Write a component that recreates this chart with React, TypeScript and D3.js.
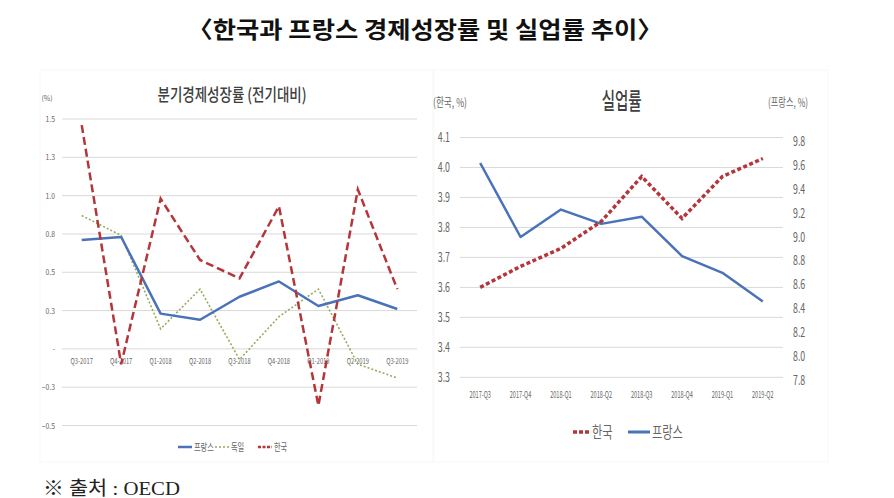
import React, { useEffect, useRef } from "react";
import * as d3 from "d3";

// 분기경제성장률 (전기대비)
const gdpQuarters = ["Q3-2017", "Q4-2017", "Q1-2018", "Q2-2018", "Q3-2018", "Q4-2018", "Q1-2019", "Q2-2019", "Q3-2019"];
const gdpFrance = [0.71, 0.73, 0.23, 0.19, 0.34, 0.44, 0.28, 0.35, 0.26];
const gdpGermany = [0.87, 0.74, 0.13, 0.39, -0.07, 0.21, 0.39, -0.1, -0.19];
const gdpKorea = [1.46, -0.1, 0.98, 0.58, 0.46, 0.93, -0.37, 1.04, 0.39];
const gdpTicks = [-0.5, -0.25, 0, 0.25, 0.5, 0.75, 1, 1.25, 1.5];

// 실업률
const unempQuarters = ["2017-Q3", "2017-Q4", "2018-Q1", "2018-Q2", "2018-Q3", "2018-Q4", "2019-Q1", "2019-Q2"];
const unempKorea = [3.6, 3.67, 3.73, 3.82, 3.97, 3.83, 3.97, 4.03];
const unempFrance = [9.62, 9.0, 9.23, 9.11, 9.17, 8.84, 8.7, 8.46];
const koreaTicks = [3.3, 3.4, 3.5, 3.6, 3.7, 3.8, 3.9, 4.0, 4.1];
const franceTicks = [7.8, 8.0, 8.2, 8.4, 8.6, 8.8, 9.0, 9.2, 9.4, 9.6, 9.8];

const BLUE = "#4a72b8";
const RED = "#b3363a";
const GREEN = "#93ad5c";
const GRID = "#d9d9d9";
const LABEL = "#666";
const SANS = "'Noto Sans CJK KR', 'Liberation Sans', sans-serif";

// squeeze text horizontally like the original image
const condense = (sel: d3.Selection<SVGTextElement, any, any, any>, k: number) => {
    sel.each(function () {
        const w = this.getComputedTextLength();
        d3.select(this).attr("textLength", w * k).attr("lengthAdjust", "spacingAndGlyphs");
    });
};

const App: React.FC = () => {
    const svgRef = useRef<SVGSVGElement | null>(null);

    useEffect(() => {
        if (!svgRef.current) return;
        const svg = d3.select(svgRef.current);
        svg.selectAll("*").remove();

        // main title
        svg.append("text")
            .attr("x", 425)
            .attr("y", 38)
            .attr("text-anchor", "middle")
            .attr("font-family", SANS)
            .attr("font-weight", "bold")
            .attr("font-size", 23)
            .attr("fill", "#111")
            .attr("textLength", 475)
            .attr("lengthAdjust", "spacingAndGlyphs")
            .text("〈한국과 프랑스 경제성장률 및 실업률 추이〉");

        // footnote
        svg.append("text")
            .attr("x", 43)
            .attr("y", 495)
            .attr("font-family", "'Liberation Serif', 'Noto Sans CJK KR', serif")
            .attr("font-size", 19)
            .attr("fill", "#222")
            .attr("textLength", 137)
            .attr("lengthAdjust", "spacingAndGlyphs")
            .text("※ 출처 : OECD");

        // faint panel edges
        svg.append("rect").attr("x", 40).attr("y", 70).attr("width", 394).attr("height", 392)
            .attr("fill", "none").attr("stroke", "#f7f7f7");
        svg.append("rect").attr("x", 433).attr("y", 70).attr("width", 395).attr("height", 392)
            .attr("fill", "none").attr("stroke", "#f8f8f8");

        // ---------- left chart: GDP growth ----------
        const L = { left: 62, right: 417, top: 119, bottom: 425.5 };
        const xL = d3.scaleBand<string>().domain(gdpQuarters).range([L.left, L.right]);
        const yL = d3.scaleLinear().domain([-0.5, 1.5]).range([L.bottom, L.top]);
        const gl = svg.append("g");

        gl.selectAll("line.grid")
            .data(gdpTicks)
            .join("line")
            .attr("x1", L.left)
            .attr("x2", L.right)
            .attr("y1", (d) => yL(d))
            .attr("y2", (d) => yL(d))
            .attr("stroke", GRID)
            .attr("stroke-width", 1);

        gl.selectAll("text.ytick")
            .data(gdpTicks)
            .join("text")
            .attr("x", 55)
            .attr("y", (d) => yL(d) + 3)
            .attr("text-anchor", "end")
            .attr("font-family", SANS)
            .attr("font-size", 8)
            .attr("fill", LABEL)
            .text((d) => (d === 0 ? "-" : d3.format(".1f")(d)))
            .call(condense as any, 0.85);

        gl.selectAll("text.xtick")
            .data(gdpQuarters)
            .join("text")
            .attr("x", (d) => (xL(d) as number) + xL.bandwidth() / 2)
            .attr("y", yL(0) + 15)
            .attr("text-anchor", "middle")
            .attr("font-family", SANS)
            .attr("font-size", 8)
            .attr("fill", LABEL)
            .text((d) => d)
            .call(condense as any, 0.72);

        gl.append("text")
            .attr("x", 47)
            .attr("y", 101)
            .attr("text-anchor", "middle")
            .attr("font-family", SANS)
            .attr("font-size", 7)
            .attr("fill", LABEL)
            .text("(%)");

        gl.append("text")
            .attr("x", 232)
            .attr("y", 101)
            .attr("text-anchor", "middle")
            .attr("font-family", SANS)
            .attr("font-size", 17)
            .attr("font-weight", 500)
            .attr("fill", "#404040")
            .attr("textLength", 149)
            .attr("lengthAdjust", "spacingAndGlyphs")
            .text("분기경제성장률 (전기대비)");

        const lineL = (vals: number[]) =>
            d3.line<number>()
                .x((_, i) => (xL(gdpQuarters[i]) as number) + xL.bandwidth() / 2)
                .y((d) => yL(d))(vals);

        gl.append("path").attr("d", lineL(gdpGermany)).attr("fill", "none")
            .attr("stroke", GREEN).attr("stroke-width", 1.6).attr("stroke-dasharray", "2,2");
        gl.append("path").attr("d", lineL(gdpFrance)).attr("fill", "none")
            .attr("stroke", BLUE).attr("stroke-width", 2.5).attr("stroke-linejoin", "round");
        gl.append("path").attr("d", lineL(gdpKorea)).attr("fill", "none")
            .attr("stroke", RED).attr("stroke-width", 2.5).attr("stroke-dasharray", "8,4");

        // left legend
        const legL = [
            { name: "프랑스", color: BLUE, dash: null, w: 2.5, x: 178 },
            { name: "독일", color: GREEN, dash: "2,2", w: 1.5, x: 215 },
            { name: "한국", color: RED, dash: "3,1.5", w: 2.5, x: 258 },
        ];
        legL.forEach((d) => {
            gl.append("line").attr("x1", d.x).attr("x2", d.x + 14).attr("y1", 447).attr("y2", 447)
                .attr("stroke", d.color).attr("stroke-width", d.w).attr("stroke-dasharray", d.dash);
            gl.append("text").attr("x", d.x + 16).attr("y", 450.5)
                .attr("font-family", SANS).attr("font-size", 10).attr("fill", LABEL)
                .text(d.name).call(condense as any, 0.72);
        });

        // ---------- right chart: unemployment ----------
        const R = { left: 460, right: 783, top: 137.5, bottom: 377.3 };
        const xR = d3.scaleBand<string>().domain(unempQuarters).range([R.left, R.right]);
        const yK = d3.scaleLinear().domain([3.3, 4.1]).range([R.bottom, R.top]);
        const yF = d3.scaleLinear().domain([7.8, 9.8]).range([R.bottom + 3, R.top + 4]);
        const gr = svg.append("g");

        gr.selectAll("line.grid")
            .data(koreaTicks)
            .join("line")
            .attr("x1", R.left)
            .attr("x2", R.right)
            .attr("y1", (d) => yK(d))
            .attr("y2", (d) => yK(d))
            .attr("stroke", GRID)
            .attr("stroke-width", 1);

        gr.selectAll("text.kt")
            .data(koreaTicks)
            .join("text")
            .attr("x", 450)
            .attr("y", (d) => yK(d) + 4.5)
            .attr("text-anchor", "end")
            .attr("font-family", SANS)
            .attr("font-size", 13)
            .attr("fill", LABEL)
            .text((d) => d3.format(".1f")(d))
            .call(condense as any, 0.68);

        gr.selectAll("text.ft")
            .data(franceTicks)
            .join("text")
            .attr("x", 793)
            .attr("y", (d) => yF(d) + 4.5)
            .attr("text-anchor", "start")
            .attr("font-family", SANS)
            .attr("font-size", 13)
            .attr("fill", LABEL)
            .text((d) => d3.format(".1f")(d))
            .call(condense as any, 0.68);

        gr.selectAll("text.xt")
            .data(unempQuarters)
            .join("text")
            .attr("x", (d) => (xR(d) as number) + xR.bandwidth() / 2)
            .attr("y", 398)
            .attr("text-anchor", "middle")
            .attr("font-family", SANS)
            .attr("font-size", 9)
            .attr("fill", LABEL)
            .text((d) => d)
            .call(condense as any, 0.62);

        gr.append("text")
            .attr("x", 621.7)
            .attr("y", 109)
            .attr("text-anchor", "middle")
            .attr("font-family", SANS)
            .attr("font-size", 23)
            .attr("font-weight", 500)
            .attr("fill", "#404040")
            .attr("textLength", 40)
            .attr("lengthAdjust", "spacingAndGlyphs")
            .text("실업률");

        gr.append("text")
            .attr("x", 450).attr("y", 107).attr("text-anchor", "middle")
            .attr("font-family", SANS).attr("font-size", 12).attr("fill", LABEL)
            .attr("textLength", 34).attr("lengthAdjust", "spacingAndGlyphs")
            .text("(한국, %)");
        gr.append("text")
            .attr("x", 788).attr("y", 107).attr("text-anchor", "middle")
            .attr("font-family", SANS).attr("font-size", 12).attr("fill", LABEL)
            .attr("textLength", 40).attr("lengthAdjust", "spacingAndGlyphs")
            .text("(프랑스, %)");

        const xc = (i: number) => (xR(unempQuarters[i]) as number) + xR.bandwidth() / 2;
        gr.append("path")
            .attr("d", d3.line<number>().x((_, i) => xc(i)).y((d) => yF(d))(unempFrance))
            .attr("fill", "none").attr("stroke", BLUE).attr("stroke-width", 2.5)
            .attr("stroke-linejoin", "round");
        gr.append("path")
            .attr("d", d3.line<number>().x((_, i) => xc(i)).y((d) => yK(d))(unempKorea))
            .attr("fill", "none").attr("stroke", RED).attr("stroke-width", 3.5)
            .attr("stroke-dasharray", "4,2.5");

        // right legend
        const legR = [
            { name: "한국", color: RED, dash: "4,2", w: 3.5, x: 573, len: 17 },
            { name: "프랑스", color: BLUE, dash: null, w: 3, x: 628, len: 22 },
        ];
        legR.forEach((d) => {
            gr.append("line").attr("x1", d.x).attr("x2", d.x + d.len).attr("y1", 432).attr("y2", 432)
                .attr("stroke", d.color).attr("stroke-width", d.w).attr("stroke-dasharray", d.dash);
            gr.append("text").attr("x", d.x + d.len + 2).attr("y", 438)
                .attr("font-family", SANS).attr("font-size", 16).attr("fill", LABEL)
                .text(d.name).call(condense as any, 0.7);
        });
    }, []);

    return (
        <div style={{ position: "fixed", left: 0, top: 0, background: "#fff" }}>
            <svg ref={svgRef} width={894} height={498} style={{ display: "block" }}></svg>
        </div>
    );
};

export default App;
